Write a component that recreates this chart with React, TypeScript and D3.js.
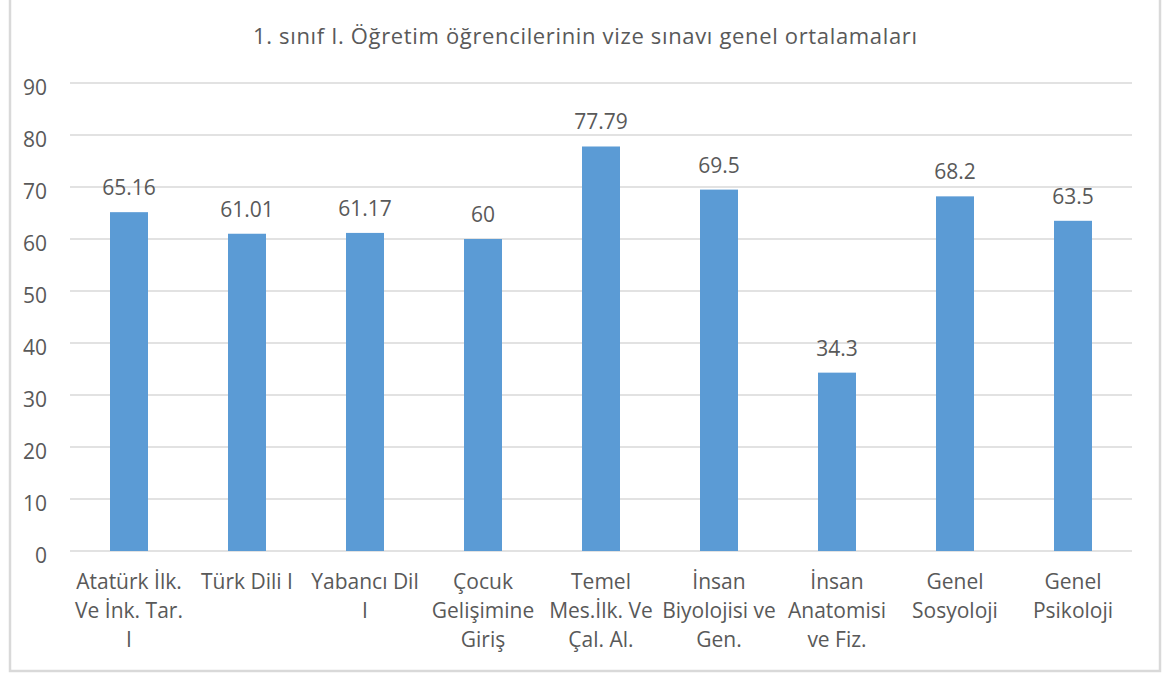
import React from "react";
import * as d3 from "d3";

const title = "1. sınıf I. Öğretim öğrencilerinin vize sınavı genel ortalamaları";
const categories = [
  "Atatürk İlk.\nVe İnk. Tar.\nI",
  "Türk Dili I",
  "Yabancı Dil\nI",
  "Çocuk\nGelişimine\nGiriş",
  "Temel\nMes.İlk. Ve\nÇal. Al.",
  "İnsan\nBiyolojisi ve\nGen.",
  "İnsan\nAnatomisi\nve Fiz.",
  "Genel\nSosyoloji",
  "Genel\nPsikoloji",
];
const values = [65.16, 61.01, 61.17, 60, 77.79, 69.5, 34.3, 68.2, 63.5];
const valueLabels = ["65.16", "61.01", "61.17", "60", "77.79", "69.5", "34.3", "68.2", "63.5"];
const yTicks = [0, 10, 20, 30, 40, 50, 60, 70, 80, 90];

const W = 1163;
const H = 673;
const FONT = "'Open Sans', 'Segoe UI', sans-serif";
const TEXT = "#595959";
const GRID = "#D9D9D9";
const BAR = "#5B9BD5";

export default function App() {
  const x = d3.scaleBand<number>().domain(d3.range(categories.length)).range([70, 1132]).paddingInner(0).paddingOuter(0);
  const y = d3.scaleLinear().domain([0, 90]).range([551, 83]);
  const barW = 38;

  return (
    <svg width={W} height={H} style={{ position: "absolute", left: 0, top: 0, background: "#fff" }} fontFamily={FONT}>
      <rect x={0} y={0} width={W} height={H} fill="#fff" />
      <rect x={10} y={-3} width={1150} height={674} fill="none" stroke={GRID} strokeWidth={2.5} />
      <text x={585} y={44} textAnchor="middle" fontSize={22} fill={TEXT} textLength={664} lengthAdjust="spacing">{title}</text>
      {yTicks.map((t) => (
        <g key={t}>
          <line x1={70} x2={1132} y1={y(t)} y2={y(t)} stroke={GRID} strokeWidth={1.5} />
          <text x={47} y={y(t) + 12} textAnchor="end" fontSize={21} fill={TEXT}>{t}</text>
        </g>
      ))}
      {values.map((v, i) => {
        const cx = x(i)! + x.bandwidth() / 2;
        return (
          <g key={i}>
            <rect x={cx - barW / 2} y={y(v)} width={barW} height={y(0) - y(v)} fill={BAR} />
            <text x={cx} y={y(v) - 17} textAnchor="middle" fontSize={21} fill={TEXT}>{valueLabels[i]}</text>
            {categories[i].split("\n").map((line, j) => (
              <text key={j} x={cx} y={589 + j * 29} textAnchor="middle" fontSize={21} fill={TEXT}>{line}</text>
            ))}
          </g>
        );
      })}
    </svg>
  );
}
